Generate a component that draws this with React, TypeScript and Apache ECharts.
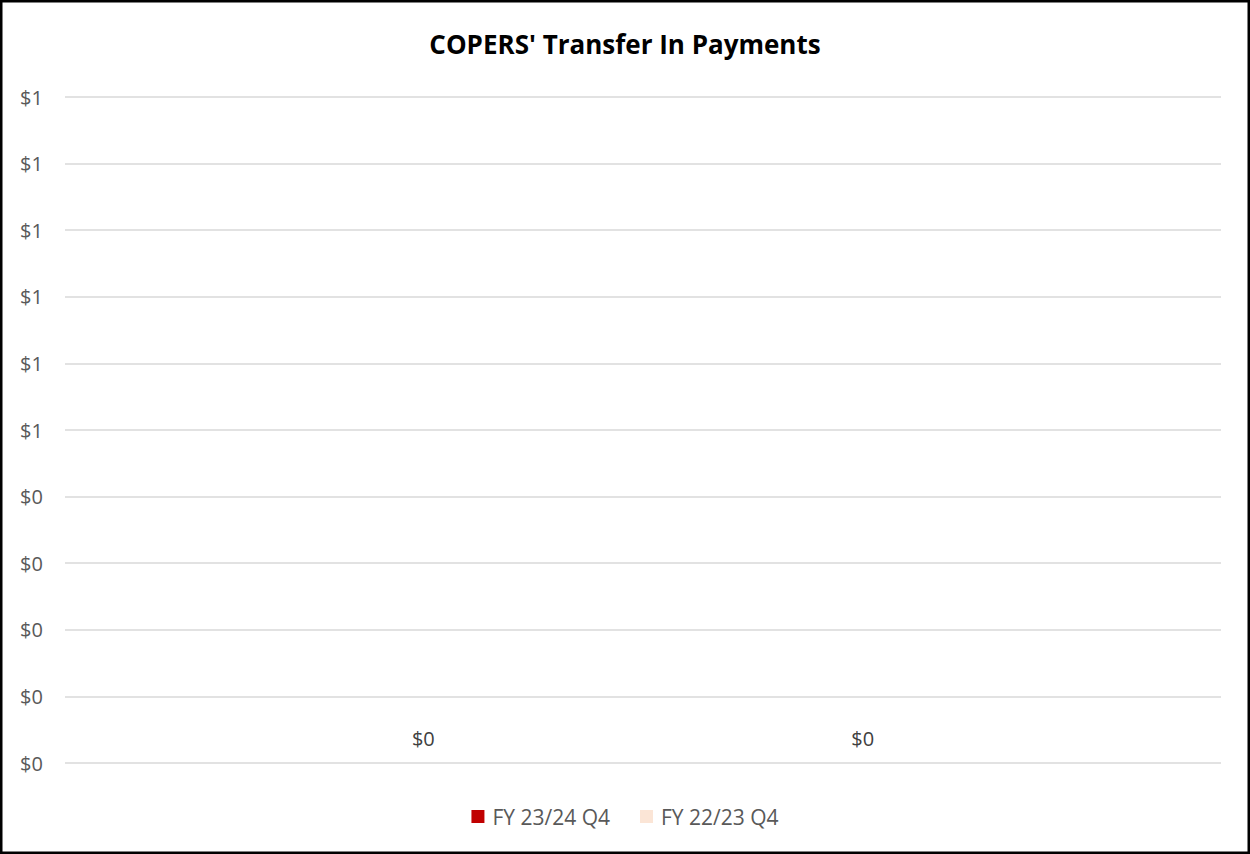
import React, { useEffect, useRef } from "react";
import * as echarts from "echarts";

const categories: string[] = [""];
const seriesNames: string[] = ["FY 23/24 Q4", "FY 22/23 Q4"];
const fy2324: number[] = [0];
const fy2223: number[] = [0];
const seriesColors: string[] = ["#C00000", "#FBE5D6"];
const yMin = 0;
const yMax = 1;
const yInterval = 0.1;

const FONT = "'Open Sans', 'Noto Sans', sans-serif";

export default function App() {
  const ref = useRef<HTMLDivElement>(null);
  useEffect(() => {
    if (!ref.current) return;
    const chart = echarts.init(ref.current, undefined, { renderer: "svg" });
    const money = (v: number) => "$" + Math.round(v).toString();
    const dataSets = [fy2324, fy2223];
    chart.setOption({
      animation: false,
      backgroundColor: "#ffffff",
      textStyle: { fontFamily: FONT },
      title: {
        text: "COPERS' Transfer In Payments",
        left: "center",
        top: 26,
        textStyle: { fontFamily: FONT, fontSize: 26, fontWeight: "bold", color: "#000000" },
      },
      legend: {
        top: 801,
        left: "center",
        itemWidth: 13,
        itemHeight: 13,
        itemGap: 30,
        icon: "rect",
        textStyle: { fontFamily: FONT, fontSize: 21, color: "#595959", padding: [0, 0, 0, 3] },
        data: seriesNames,
      },
      grid: { left: 65, right: 29, top: 97, bottom: 91, containLabel: false },
      xAxis: {
        type: "category",
        data: categories,
        axisLine: { show: false },
        axisTick: { show: false },
        axisLabel: { show: false },
      },
      yAxis: {
        type: "value",
        min: yMin,
        max: yMax,
        interval: yInterval,
        axisLine: { show: false },
        axisTick: { show: false },
        splitLine: { lineStyle: { color: "#D9D9D9", width: 1.5 } },
        axisLabel: {
          formatter: money,
          align: "left",
          margin: 45,
          fontFamily: FONT,
          fontSize: 20,
          color: "#595959",
        },
      },
      series: seriesNames.map((name, i) => ({
        name,
        type: "bar",
        data: dataSets[i],
        barGap: "0%",
        barCategoryGap: "24%",
        itemStyle: { color: seriesColors[i] },
        label: {
          show: true,
          position: "top",
          distance: 15,
          formatter: (p: any) => money(p.value),
          fontFamily: FONT,
          fontSize: 20,
          color: "#404040",
        },
      })),
      graphic: [
        {
          type: "rect",
          shape: { x: 1.25, y: 1.25, width: 1247.5, height: 851.5 },
          style: { fill: "none", stroke: "#000000", lineWidth: 2.5 },
          z: 100,
        },
      ],
    });
    return () => chart.dispose();
  }, []);
  return (
    <div
      ref={ref}
      style={{ position: "absolute", left: 0, top: 0, width: 1250, height: 854 }}
    />
  );
}
